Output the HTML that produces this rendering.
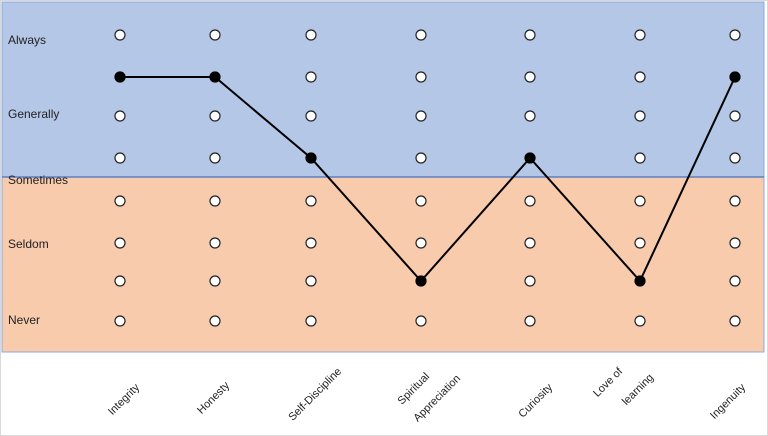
<!DOCTYPE html>
<html><head><meta charset="utf-8"><style>
html,body{margin:0;padding:0;background:#fff;}
svg{display:block;font-family:"Liberation Sans",sans-serif;}
</style></head><body>
<svg width="768" height="436" viewBox="0 0 768 436" xmlns="http://www.w3.org/2000/svg">
<defs>
<g id="c">
<circle cx="0" cy="35" r="5"/><circle cx="0" cy="77" r="5"/><circle cx="0" cy="116" r="5"/><circle cx="0" cy="158" r="5"/>
<circle cx="0" cy="201" r="5"/><circle cx="0" cy="243" r="5"/><circle cx="0" cy="281" r="5"/><circle cx="0" cy="321" r="5"/>
</g>
</defs>
<rect x="0" y="0" width="768" height="436" fill="#fff"/>
<rect x="0.5" y="0.5" width="767" height="435" fill="none" stroke="#d9d9d9"/>
<rect x="2" y="2" width="762" height="175" fill="#b4c7e7"/>
<rect x="2" y="177" width="762" height="175" fill="#f8cbad"/>
<rect x="2" y="2" width="762" height="350" fill="none" stroke="#8faadc" stroke-width="1"/>
<line x1="2" y1="177" x2="764" y2="177" stroke="#4472c4" stroke-width="1.2"/>
<g font-size="12" fill="#222">
<text x="8" y="44">Always</text>
<text x="8" y="118">Generally</text>
<text x="8" y="184">Sometimes</text>
<text x="8" y="248">Seldom</text>
<text x="8" y="324">Never</text>
</g>
<g fill="#fff" stroke="#222" stroke-width="1.2">
<use href="#c" x="120"/><use href="#c" x="215"/><use href="#c" x="311"/><use href="#c" x="421"/><use href="#c" x="530"/><use href="#c" x="640"/><use href="#c" x="735"/>
</g>
<polyline points="120,77 215,77 311,158 421,281 530,158 640,281 735,77" fill="none" stroke="#000" stroke-width="2"/>
<g fill="#000">
<circle cx="120" cy="77" r="5.5"/><circle cx="215" cy="77" r="5.5"/><circle cx="311" cy="158" r="5.5"/><circle cx="421" cy="281" r="5.5"/><circle cx="530" cy="158" r="5.5"/><circle cx="640" cy="281" r="5.5"/><circle cx="735" cy="77" r="5.5"/>
</g>
<g font-size="11" fill="#222" text-anchor="end">
<text transform="translate(140,388) rotate(-45)">Integrity</text>
<text transform="translate(230,386) rotate(-45)">Honesty</text>
<text transform="translate(342,372) rotate(-45)">Self-Discipline</text>
<text transform="translate(430,377) rotate(-45)">Spiritual</text>
<text transform="translate(461,379) rotate(-45)">Appreciation</text>
<text transform="translate(553,388) rotate(-45)">Curiosity</text>
<text transform="translate(623,372) rotate(-45)">Love of</text>
<text transform="translate(654,378) rotate(-45)">learning</text>
<text transform="translate(746,388) rotate(-45)">Ingenuity</text>
</g>
</svg>
</body></html>
